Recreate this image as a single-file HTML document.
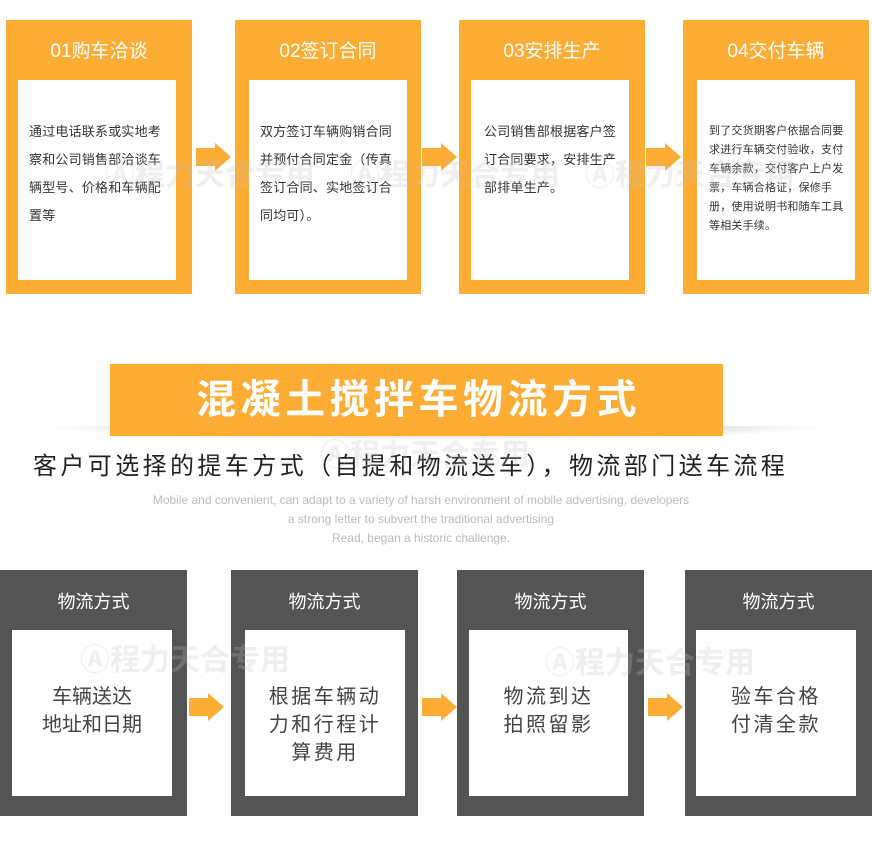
<!DOCTYPE html>
<html><head><meta charset="utf-8"><style>
*{margin:0;padding:0;box-sizing:border-box}
body{width:872px;height:866px;background:#fff;position:relative;overflow:hidden;font-family:"Liberation Sans","Noto Sans CJK SC",sans-serif}
.ob{position:absolute;top:20px;width:186px;height:274px;background:#fdac34}
.ob .h{position:absolute;top:20px;left:0;width:100%;text-align:center;color:#fff;font-size:19px;line-height:24px}
.ob .w{position:absolute;top:60px;left:12px;width:158px;height:200px;background:#fff;padding:0 0 0 11px}
.ob .w p{color:#333;font-size:13px;line-height:28px;margin-top:38px;width:136px;letter-spacing:0.2px}
.ob .w p.s{font-size:11px;line-height:19px;margin-top:42px;width:144px;letter-spacing:0.2px}
.gb{position:absolute;top:570px;width:187px;height:246px;background:#545454}
.gb .h{position:absolute;top:21px;left:0;width:100%;text-align:center;color:#fff;font-size:18px;line-height:22px}
.gb .w{position:absolute;top:60px;left:12px;width:160px;height:166px;background:#fff;text-align:center;color:#444;font-size:20px;line-height:28px;padding-top:53px;letter-spacing:2.5px}
.ar{position:absolute;width:36px;height:28px}
.wm{position:absolute;color:rgba(190,190,190,0.25);font-size:30px;font-weight:bold;white-space:nowrap}
</style></head><body>

<div class="ob" style="left:6px"><div class="h">01购车洽谈</div><div class="w"><p>通过电话联系或实地考察和公司销售部洽谈车辆型号、价格和车辆配置等</p></div></div>
<div class="ob" style="left:235px"><div class="h">02签订合同</div><div class="w" style="left:14px;width:158px"><p>双方签订车辆购销合同并预付合同定金（传真签订合同、实地签订合同均可）。</p></div></div>
<div class="ob" style="left:459px"><div class="h">03安排生产</div><div class="w" style="width:158px;padding-left:13px"><p>公司销售部根据客户签订合同要求，安排生产部排单生产。</p></div></div>
<div class="ob" style="left:683px"><div class="h">04交付车辆</div><div class="w" style="left:14px;width:158px;padding-left:12px"><p class="s">到了交货期客户依据合同要求进行车辆交付验收，支付车辆余款，交付客户上户发票，车辆合格证，保修手册，使用说明书和随车工具等相关手续。</p></div></div>

<svg class="ar" style="left:196px;top:143px" viewBox="0 0 36 28"><polygon points="0,5 19,5 19,0 35,14 19,28 19,23 0,23" fill="#fdac34"/></svg>
<svg class="ar" style="left:422px;top:143px" viewBox="0 0 36 28"><polygon points="0,5 19,5 19,0 35,14 19,28 19,23 0,23" fill="#fdac34"/></svg>
<svg class="ar" style="left:646px;top:143px" viewBox="0 0 36 28"><polygon points="0,5 19,5 19,0 35,14 19,28 19,23 0,23" fill="#fdac34"/></svg>

<div style="position:absolute;left:40px;top:426px;width:792px;height:14px;background:radial-gradient(ellipse at center top,rgba(0,0,0,0.35),rgba(0,0,0,0) 70%)"></div>
<div style="position:absolute;left:110px;top:364px;width:613px;height:72px;background:#fdac34;color:#fff;font-size:40px;font-weight:bold;text-align:center;line-height:72px;letter-spacing:4.5px;padding-left:4px">混凝土搅拌车物流方式</div>
<div style="position:absolute;left:33px;top:452px;width:820px;font-size:24px;color:#222;line-height:30px;white-space:nowrap;letter-spacing:3.4px">客户可选择的提车方式（自提和物流送车），物流部门送车流程</div>
<div style="position:absolute;left:0;top:491px;width:842px;text-align:center;color:#bbb;font-size:12px;line-height:19px">Mobile and convenient, can adapt to a variety of harsh environment of mobile advertising, developers<br>a strong letter to subvert the traditional advertising<br>Read, began a historic challenge.</div>

<div class="gb" style="left:0"><div class="h">物流方式</div><div class="w" style="letter-spacing:0">车辆送达<br>地址和日期</div></div>
<div class="gb" style="left:231px"><div class="h">物流方式</div><div class="w" style="left:14px">根据车辆动<br>力和行程计<br>算费用</div></div>
<div class="gb" style="left:457px"><div class="h">物流方式</div><div class="w" style="width:159px">物流到达<br>拍照留影</div></div>
<div class="gb" style="left:685px"><div class="h">物流方式</div><div class="w" style="left:11px">验车合格<br>付清全款</div></div>

<svg class="ar" style="left:189px;top:693px" viewBox="0 0 36 28"><polygon points="0,5 19,5 19,0 35,14 19,28 19,23 0,23" fill="#fdac34"/></svg>
<svg class="ar" style="left:422px;top:693px" viewBox="0 0 36 28"><polygon points="0,5 19,5 19,0 35,14 19,28 19,23 0,23" fill="#fdac34"/></svg>
<svg class="ar" style="left:648px;top:693px" viewBox="0 0 36 28"><polygon points="0,5 19,5 19,0 35,14 19,28 19,23 0,23" fill="#fdac34"/></svg>

<div class="wm" style="left:105px;top:150px">Ⓐ程力天合专用</div>
<div class="wm" style="left:350px;top:150px">Ⓐ程力天合专用</div>
<div class="wm" style="left:585px;top:150px">Ⓐ程力天合专用</div>
<div class="wm" style="left:320px;top:430px">Ⓐ程力天合专用</div>
<div class="wm" style="left:80px;top:635px">Ⓐ程力天合专用</div>
<div class="wm" style="left:545px;top:638px">Ⓐ程力天合专用</div>
</body></html>
